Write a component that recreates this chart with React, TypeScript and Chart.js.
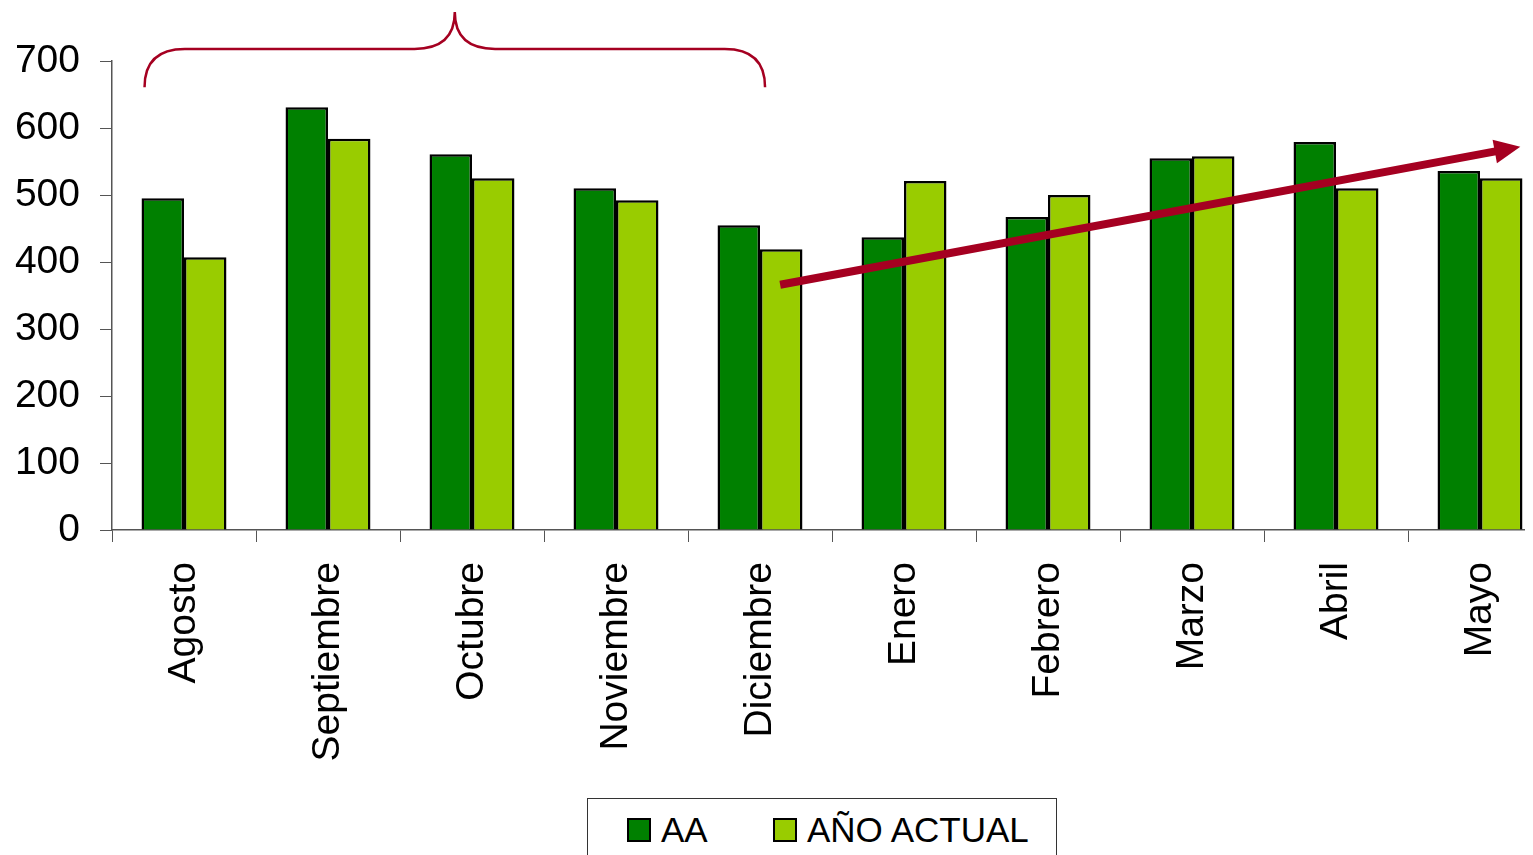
import React, { useEffect, useRef } from "react";
import { Chart, registerables } from "chart.js";

Chart.register(...registerables);

const months = ["Agosto", "Septiembre", "Octubre", "Noviembre", "Diciembre", "Enero", "Febrero", "Marzo", "Abril", "Mayo"];
const aaValues = [495, 631, 561, 510, 455, 437, 467, 555, 579, 536];
const actualValues = [407, 584, 525, 492, 419, 521, 500, 558, 510, 525];
const seriesNames = ["AA", "AÑO ACTUAL"];
const seriesColors = ["#008000", "#99CC00"];
const yMin = 0;
const yMax = 700;
const yStep = 100;

// Annotation anchors in data space: [category index (fractional), value]
const braceLeft = [-0.274, 661];
const braceRight = [4.035, 661];
const braceBar = 718;
const bracePeak = 773;
const braceCornerIdx = 0.28;
const trendFrom = [4.14, 366];
const trendTo = [9.28, 572];

const FONT = "'Liberation Sans', Arial, sans-serif";
const RED = "#A50021";

const annotationPlugin = {
  id: "annotations",
  afterDatasetsDraw(chart: any) {
    const { ctx } = chart;
    const xs = chart.scales.x;
    const ys = chart.scales.y;
    const X = (v: number) => xs.getPixelForValue(v);
    const Y = (v: number) => ys.getPixelForValue(v);
    ctx.save();
    // brace
    const x0 = X(braceLeft[0]);
    const x1 = X(braceRight[0]);
    const xm = (x0 + x1) / 2;
    const yEnd = Y(braceLeft[1]);
    const yBar = Y(braceBar);
    const yPeak = Y(bracePeak);
    const c = X(braceCornerIdx) - X(0);
    ctx.strokeStyle = RED;
    ctx.lineWidth = 2.5;
    ctx.beginPath();
    ctx.moveTo(x0, yEnd);
    ctx.quadraticCurveTo(x0, yBar, x0 + c, yBar);
    ctx.lineTo(xm - c, yBar);
    ctx.quadraticCurveTo(xm, yBar, xm, yPeak);
    ctx.quadraticCurveTo(xm, yBar, xm + c, yBar);
    ctx.lineTo(x1 - c, yBar);
    ctx.quadraticCurveTo(x1, yBar, x1, yEnd);
    ctx.stroke();
    // arrow
    const ax0 = X(trendFrom[0]);
    const ay0 = Y(trendFrom[1]);
    const ax1 = X(trendTo[0]);
    const ay1 = Y(trendTo[1]);
    const ang = Math.atan2(ay1 - ay0, ax1 - ax0);
    const headLen = 26;
    const headHalf = 12;
    const bx = ax1 - headLen * Math.cos(ang);
    const by = ay1 - headLen * Math.sin(ang);
    ctx.strokeStyle = RED;
    ctx.fillStyle = RED;
    ctx.lineWidth = 8;
    ctx.lineCap = "butt";
    ctx.beginPath();
    ctx.moveTo(ax0, ay0);
    ctx.lineTo(bx + 2 * Math.cos(ang), by + 2 * Math.sin(ang));
    ctx.stroke();
    ctx.beginPath();
    ctx.moveTo(ax1, ay1);
    ctx.lineTo(bx - headHalf * Math.sin(ang), by + headHalf * Math.cos(ang));
    ctx.lineTo(bx + headHalf * Math.sin(ang), by - headHalf * Math.cos(ang));
    ctx.closePath();
    ctx.fill();
    ctx.restore();
  },
};

export default function App() {
  const ref = useRef<HTMLCanvasElement>(null);
  useEffect(() => {
    if (!ref.current) return;
    const chart = new Chart(ref.current, {
      type: "bar",
      data: {
        labels: months,
        datasets: [
          {
            label: seriesNames[0],
            data: aaValues,
            backgroundColor: seriesColors[0],
            borderColor: "#000",
            borderWidth: 2.5,
            barPercentage: 1,
            categoryPercentage: 0.59,
          },
          {
            label: seriesNames[1],
            data: actualValues,
            backgroundColor: seriesColors[1],
            borderColor: "#000",
            borderWidth: 2.5,
            barPercentage: 1,
            categoryPercentage: 0.59,
          },
        ],
      },
      options: {
        animation: false,
        responsive: false,
        maintainAspectRatio: false,
        layout: { padding: { top: 53, left: 0, right: 0, bottom: 0 } },
        plugins: { legend: { display: false }, tooltip: { enabled: false } },
        scales: {
          x: {
            afterFit: (s: any) => {
              s.height = 241;
            },
            grid: {
              display: true,
              drawOnChartArea: false,
              drawTicks: true,
              tickLength: 12,
              color: "#555",
              offset: true,
            },
            border: { color: "#555", width: 1.5 },
            ticks: {
              minRotation: 90,
              maxRotation: 90,
              padding: 20,
              color: "#000",
              font: { family: FONT, size: 39 },
              autoSkip: false,
            },
          },
          y: {
            min: yMin,
            max: yMax,
            afterFit: (s: any) => {
              s.width = 104;
            },
            grid: {
              display: true,
              drawOnChartArea: false,
              drawTicks: true,
              tickLength: 12,
              color: "#555",
            },
            border: { color: "#555", width: 1.5 },
            ticks: {
              stepSize: yStep,
              padding: 20,
              color: "#000",
              font: { family: FONT, size: 39 },
            },
          },
        },
      },
      plugins: [annotationPlugin],
    });
    return () => chart.destroy();
  }, []);

  const legendItem = (i: number, left: number) => (
    <div
      key={i}
      style={{
        position: "absolute",
        left,
        top: 11,
        display: "flex",
        alignItems: "center",
        fontFamily: FONT,
        fontSize: 35,
        color: "#000",
        whiteSpace: "nowrap",
      }}
    >
      <span
        style={{
          display: "inline-block",
          width: 20,
          height: 20,
          background: seriesColors[i],
          border: "2px solid #000",
          marginRight: 10,
        }}
      />
      <span>{seriesNames[i]}</span>
    </div>
  );

  return (
    <div style={{ position: "relative", width: 1525, height: 847, overflow: "hidden" }}>
      <canvas ref={ref} width={1544} height={763} style={{ display: "block" }} />
      <div
        style={{
          position: "absolute",
          left: 579,
          top: 790,
          width: 468,
          height: 80,
          border: "1px solid #333",
          background: "#fff",
        }}
      >
        {legendItem(0, 39)}
        {legendItem(1, 185)}
      </div>
    </div>
  );
}
